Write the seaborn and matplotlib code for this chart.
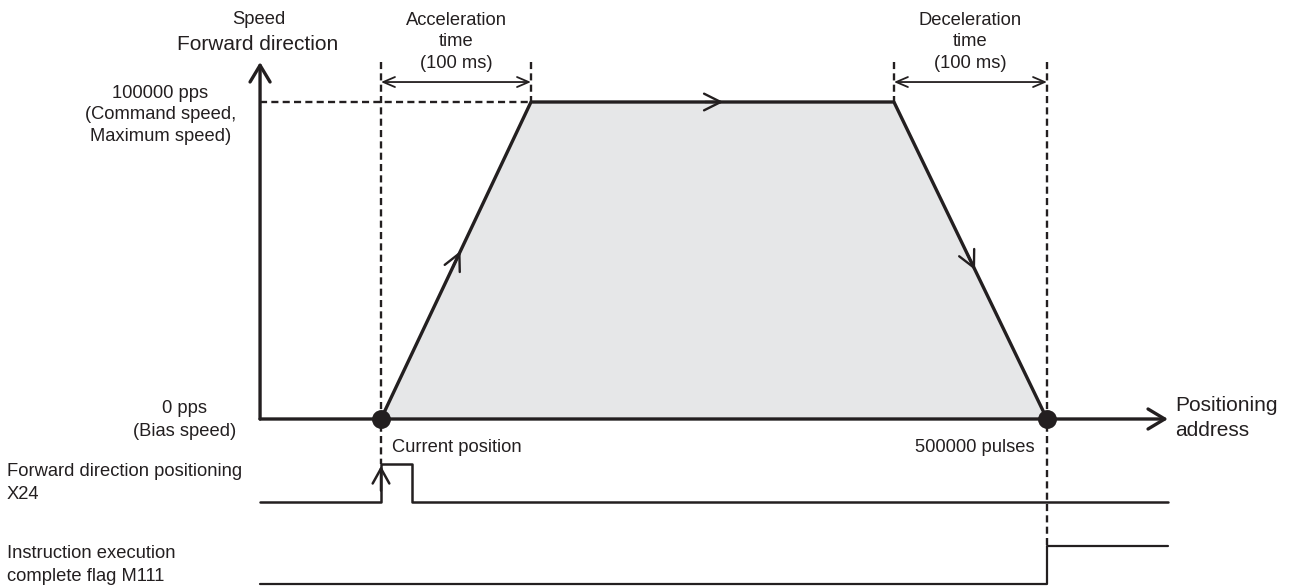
import numpy as np
import pandas as pd
import matplotlib
matplotlib.use("Agg")
import matplotlib.pyplot as plt
import seaborn as sns

# ====== DATA ======
# speed profile (position in pulses, speed in pps)
positions = [0, 112600, 385100, 500000]
speeds = [0, 100000, 100000, 0]
point_labels = ["Current position", "500000 pulses"]
accel_label = "Acceleration\ntime\n(100 ms)"
decel_label = "Deceleration\ntime\n(100 ms)"
speed_labels = ["100000 pps\n(Command speed,\nMaximum speed)", "0 pps\n(Bias speed)"]

# timing signals (switch positions in pulses)
x24_on = [0, 23000]          # rising edge, falling edge
m111_on = 500000             # rising edge at target
signal_names = ["Forward direction positioning\nX24",
                "Instruction execution\ncomplete flag M111"]

# ====== STYLE / LAYOUT ======
W, H = 1289, 588
INK = "#231f20"
FILL = "#e6e7e8"
SMALL = 13.2
LARGE = 15

AXIS_X0, AXIS_X1 = -90800, 590800      # extent of the axis lines
AXIS_YTOP = 112600                      # top of the speed axis arrow
SPAN_Y = 106300                         # height of the time spans
X24_BASE, M111_BASE, SIG_AMP = -26200, -52000, 12000

sns.set_style("white")
plt.rcParams["font.family"] = ["Liberation Sans", "DejaVu Sans"]

fig = plt.figure(figsize=(W / 100, H / 100), dpi=100)
ax = fig.add_axes([381 / W, (H - 419) / H, 666 / W, 317 / H])
ax.set_xlim(0, 500000)
ax.set_ylim(0, 100000)
ax.axis("off")


def ftext(x, y, s, **kw):
    # place text using pixel positions of the figure
    kw.setdefault("fontsize", SMALL)
    kw.setdefault("color", INK)
    fig.text(x / W, 1 - y / H, s, **kw)


def arrow(p0, p1, style, lw=2.4, ms=12):
    ax.annotate("", xy=p1, xytext=p0, annotation_clip=False,
                arrowprops=dict(arrowstyle=style, color=INK, lw=lw,
                                shrinkA=0, shrinkB=0, mutation_scale=ms))


# ====== speed profile ======
profile = pd.DataFrame({"position": positions, "speed": speeds})
ax.fill_between(positions, speeds, color=FILL, lw=0, zorder=1)
sns.lineplot(data=profile, x="position", y="speed", sort=False, color=INK,
             lw=2.4, ax=ax, zorder=3, clip_on=False)

# direction arrows on each segment
for i in range(3):
    x0, x1 = positions[i], positions[i + 1]
    y0, y1 = speeds[i], speeds[i + 1]
    f = 0.53
    tip = (x0 + f * (x1 - x0), y0 + f * (y1 - y0))
    back = (x0 + (f - 0.05) * (x1 - x0), y0 + (f - 0.05) * (y1 - y0))
    arrow(back, tip, "->,head_length=1.0,head_width=0.5", lw=1.7)

# axes
arrow((AXIS_X0, 0), (AXIS_X0, AXIS_YTOP), "->,head_length=1.0,head_width=0.6")
arrow((AXIS_X0, 0), (AXIS_X1, 0), "->,head_length=1.0,head_width=0.6")

# dashed guides
dash = dict(color=INK, lw=1.7, dashes=(3.0, 1.8), clip_on=False, zorder=2)
ax.plot([AXIS_X0, positions[1]], [speeds[1], speeds[1]], **dash)
ax.plot([positions[0], positions[0]], [AXIS_YTOP, X24_BASE + SIG_AMP], **dash)
ax.plot([positions[1], positions[1]], [AXIS_YTOP, speeds[1]], **dash)
ax.plot([positions[2], positions[2]], [AXIS_YTOP, speeds[2]], **dash)
ax.plot([positions[3], positions[3]], [AXIS_YTOP, M111_BASE + SIG_AMP], **dash)

# time spans
arrow((positions[0], SPAN_Y), (positions[1], SPAN_Y), "<->,head_length=0.7,head_width=0.3", lw=1.3)
arrow((positions[2], SPAN_Y), (positions[3], SPAN_Y), "<->,head_length=0.7,head_width=0.3", lw=1.3)

# end points
sns.scatterplot(x=[positions[0], positions[-1]], y=[0, 0], s=185, color=INK,
                linewidth=0, ax=ax, zorder=6, clip_on=False)

# ====== timing signals ======
x24_x = [AXIS_X0, x24_on[0], x24_on[0], x24_on[1], x24_on[1], AXIS_X1]
x24_y = [X24_BASE + SIG_AMP * v for v in [0, 0, 1, 1, 0, 0]]
ax.plot(x24_x, x24_y, color=INK, lw=1.8, clip_on=False, zorder=3)
arrow((x24_on[0], X24_BASE + 0.3 * SIG_AMP), (x24_on[0], X24_BASE + 0.95 * SIG_AMP),
      "->,head_length=0.9,head_width=0.5", lw=1.8)

m111_x = [AXIS_X0, m111_on, m111_on, AXIS_X1]
m111_y = [M111_BASE + SIG_AMP * v for v in [0, 0, 1, 1]]
ax.plot(m111_x, m111_y, color=INK, lw=1.6, clip_on=False, zorder=3)

# ====== texts ======
ftext(259, 20, "Speed", ha="center", va="center")
ftext(258, 45, "Forward direction", ha="center", va="center", fontsize=LARGE)
ftext(456, 42, accel_label, ha="center", va="center", linespacing=1.36)
ftext(970, 42, decel_label, ha="center", va="center", linespacing=1.36)
ftext(236, 115, speed_labels[0], ha="right", va="center", multialignment="center",
      linespacing=1.37)
ftext(236, 420, speed_labels[1], ha="right", va="center", multialignment="center",
      linespacing=1.45)
ftext(392, 447, point_labels[0], ha="left", va="center")
ftext(1035, 447, point_labels[1], ha="right", va="center")
ftext(1175, 418, "Positioning\naddress", ha="left", va="center", fontsize=LARGE,
      linespacing=1.36)
ftext(7, 483, signal_names[0], ha="left", va="center", linespacing=1.4)
ftext(7, 565, signal_names[1], ha="left", va="center", linespacing=1.45)

fig.savefig("out.png", dpi=100)
